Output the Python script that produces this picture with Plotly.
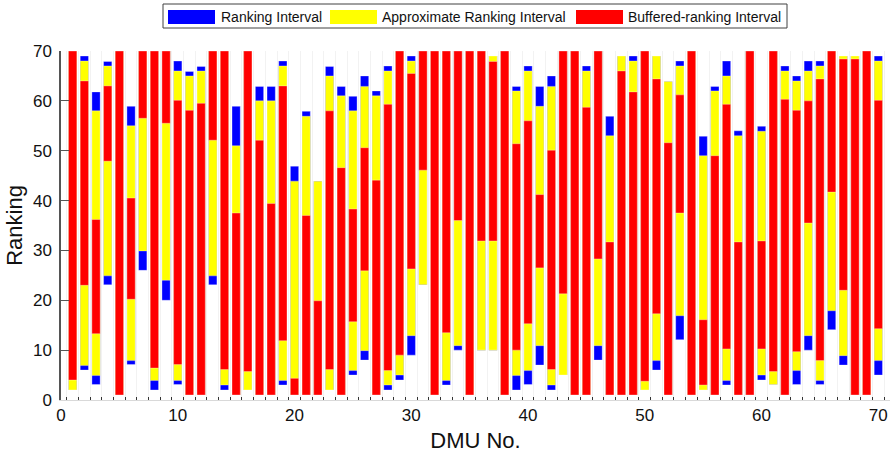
import plotly.graph_objects as go

# ---------------- data ----------------
dmu = list(range(1, 71))

blue_lo = [2, 6, 3.1, 23.1, 1, 7.1, 26, 2, 20, 3.1,
           1, 1, 23.1, 2, 1, 2, 1, 1, 3, 1,
           1, 1, 2, 1, 5, 8, 1, 2, 4, 9,
           23.1, 1, 3, 10, 1, 10, 10, 1, 2, 3.1,
           7, 2, 5, 1, 1, 8, 1, 1, 1, 2,
           6, 1, 12.1, 1, 2, 1, 3, 1, 1, 4,
           3.1, 1, 3.1, 10, 3.1, 14.1, 7, 1, 1, 5]
blue_hi = [70, 69, 61.8, 67.9, 70, 58.9, 70, 70, 70, 68,
           65.9, 66.9, 70, 70, 58.9, 70, 62.9, 62.9, 68, 46.9,
           57.9, 43.9, 66.9, 62.9, 60.9, 65, 62, 67, 70, 69,
           70, 70, 70, 70, 70, 70, 69, 70, 62.9, 67,
           62.9, 65, 70, 70, 67, 70, 56.9, 69, 69, 70,
           69, 63.9, 68, 70, 52.9, 62.9, 68, 54, 70, 54.9,
           70, 67, 65, 68, 68, 70, 69, 69, 70, 69]

yellow_lo = [2, 6.9, 4.9, 24.9, 1, 7.9, 29.9, 3.9, 24, 3.9,
             1, 1, 24.9, 3, 1, 2, 1, 1, 3.9, 1,
             1, 1, 2, 1, 5.9, 9.9, 1, 3, 5, 12.9,
             23.1, 1, 3.9, 10.9, 1, 10, 10, 1, 4.9, 5.9,
             10.9, 3, 5, 1, 1, 10.9, 1, 1, 1, 2,
             7.9, 1, 16.9, 1, 2, 1, 3.9, 1, 1, 5,
             3.1, 1, 5.9, 12.9, 3.9, 17.9, 8.9, 1, 1, 7.9]
yellow_hi = [70, 68, 58, 67, 70, 55, 70, 70, 70, 66,
             65, 66, 70, 70, 51, 70, 60, 60, 67, 43.9,
             56.9, 43.9, 65, 61, 58, 62.9, 61, 66, 70, 68,
             70, 70, 70, 70, 70, 70, 69, 70, 62, 66,
             58.9, 62.9, 70, 70, 66, 70, 53, 69, 68, 70,
             69, 63.9, 67, 70, 49, 62, 65, 53, 70, 53.9,
             70, 66, 64, 66, 67, 70, 69, 69, 70, 68]

red_lo = [4, 23, 13.3, 47.9, 1, 20.2, 56.5, 6.4, 55.5, 7.1,
          1, 1, 52.1, 6.1, 1, 5.7, 1, 1, 11.9, 1,
          1, 1, 6.1, 1, 15.7, 25.9, 1, 5.9, 9, 26.3,
          46.1, 1, 13.5, 36, 1, 31.9, 31.9, 1, 10, 15.3,
          26.5, 6.1, 21.3, 1, 1, 28.3, 1, 1, 1, 3.75,
          17.3, 1, 37.5, 1, 3, 1, 10.25, 1, 1, 10.25,
          5.7, 1, 9.7, 35.5, 7.9, 41.7, 22, 1, 1, 14.3]
red_hi = [70, 64, 36.2, 63, 70, 40.5, 70, 70, 70, 60.1,
          58.1, 59.5, 70, 70, 37.5, 70, 52.1, 39.4, 63, 4.35,
          37, 19.9, 58, 46.6, 38.3, 50.6, 44.1, 59.3, 70, 65.5,
          70, 70, 70, 70, 70, 70, 67.9, 70, 51.4, 56,
          41.2, 50.1, 70, 70, 58.7, 70, 31.7, 66, 61.8, 70,
          64.4, 51.6, 61.2, 70, 16.1, 49, 59.3, 31.7, 70, 31.9,
          70, 60.3, 58.1, 60, 64.4, 70, 68.4, 68.4, 70, 60.1]

series_names = ["Ranking Interval", "Approximate Ranking Interval", "Buffered-ranking Interval"]
series_colors = ["#0000FF", "#FFFF00", "#FF0000"]
x_ticks = [0, 10, 20, 30, 40, 50, 60, 70]
y_ticks = [0, 10, 20, 30, 40, 50, 60, 70]

# ---------------- figure ----------------
W, H = 891, 454
ML, MR, MT, MB = 61, 1, 51, 54
PW, PH = W - ML - MR, H - MT - MB

fig = go.Figure()
for name, color, lo, hi in zip(series_names, series_colors,
                               [blue_lo, yellow_lo, red_lo],
                               [blue_hi, yellow_hi, red_hi]):
    fig.add_trace(go.Bar(
        x=dmu, y=[h - l for l, h in zip(lo, hi)], base=lo,
        name=name, width=0.71,
        marker=dict(color=color, line=dict(color="rgba(255,255,255,0.55)", width=0.6)),
        showlegend=False,
    ))

FONT = "Liberation Sans, Arial, sans-serif"

def px_x(p):
    return (p - ML) / PW

def px_y(p):
    return (H - MB - p) / PH

shapes = []
annotations = []
# legend frame
shapes.append(dict(type="rect", xref="paper", yref="paper",
                   x0=px_x(163), x1=px_x(787), y0=px_y(28), y1=px_y(4),
                   line=dict(color="#404040", width=1), fillcolor="white"))
sw_x = [168, 330, 576]
tx_x = [219, 380, 626]
for name, color, sx, tx in zip(series_names, series_colors, sw_x, tx_x):
    shapes.append(dict(type="rect", xref="paper", yref="paper",
                       x0=px_x(sx), x1=px_x(sx + 47), y0=px_y(24), y1=px_y(10),
                       line=dict(width=0), fillcolor=color))
    annotations.append(dict(text=name, xref="paper", yref="paper",
                            x=px_x(tx), y=px_y(17), xanchor="left", yanchor="middle",
                            showarrow=False, font=dict(family=FONT, size=14, color="#111")))

fig.update_layout(
    width=W, height=H,
    margin=dict(l=ML, r=MR, t=MT, b=MB, pad=0),
    barmode="overlay",
    plot_bgcolor="white", paper_bgcolor="white",
    font=dict(family=FONT, color="#111"),
    shapes=shapes, annotations=annotations,
    showlegend=False,
)
fig.update_xaxes(
    range=[0, 71], tickvals=x_ticks, ticks="", showgrid=False, zeroline=False,
    showline=True, linecolor="#d9d9d9", linewidth=1,
    tickfont=dict(size=17, family=FONT, color="#111"),
    minor=dict(tick0=0.5, dtick=1, ticks="inside", ticklen=3, tickcolor="#333",
               showgrid=True, gridcolor="#f2f2f2", gridwidth=1),
    title=dict(text="DMU No.", font=dict(size=22, family=FONT, color="#111"), standoff=8),
)
fig.update_yaxes(
    range=[0, 70], tickvals=y_ticks, ticks="inside", ticklen=8, tickcolor="#555",
    showgrid=False, zeroline=False, showline=True, linecolor="#555", linewidth=1.5,
    tickfont=dict(size=17, family=FONT, color="#111"), ticklabelstandoff=4,
    title=dict(text="Ranking", font=dict(size=22, family=FONT, color="#111"), standoff=4),
)

fig.write_html("out.html")
